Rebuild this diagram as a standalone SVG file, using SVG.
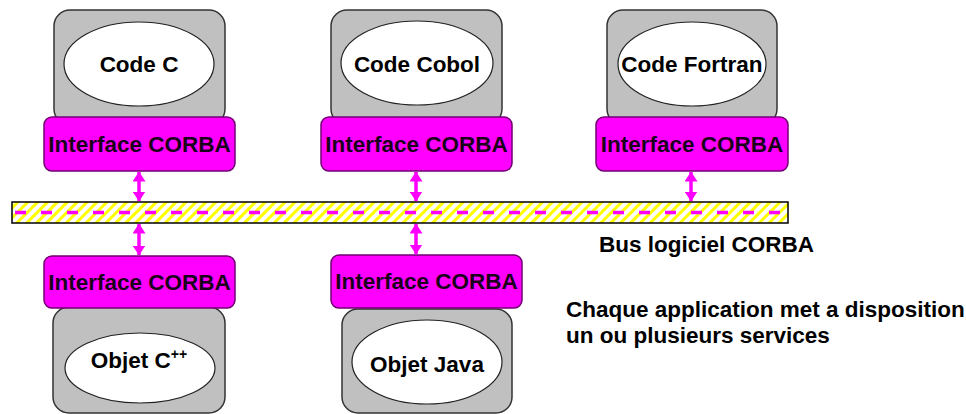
<svg xmlns="http://www.w3.org/2000/svg" width="966" height="414" viewBox="0 0 966 414">
<style>
.box{fill:#c0c0c0;stroke:#333;stroke-width:1.5}
.ell{fill:#fff;stroke:#222;stroke-width:1.2}
.itf{fill:#ff00ff;stroke:#700070;stroke-width:1.5}
.t{font-family:"Liberation Sans",Arial,sans-serif;font-weight:bold;font-size:22.5px;fill:#000}
.ti{font-family:"Liberation Sans",Arial,sans-serif;font-weight:bold;font-size:22.5px;fill:#1a001a;text-anchor:middle}
.c{text-anchor:middle}
.arr{stroke:#ff00ff;stroke-width:3.5;marker-start:url(#ah);marker-end:url(#ah)}
</style>
<defs>
<marker id="ah" viewBox="0 0 10 13" refX="9.5" refY="6.5" markerWidth="10" markerHeight="13" markerUnits="userSpaceOnUse" orient="auto-start-reverse">
<path d="M0,0 L10,6.5 L0,13 z" fill="#ff00ff"/>
</marker>
<pattern id="hatch" patternUnits="userSpaceOnUse" width="7" height="7" patternTransform="rotate(45)">
<rect x="0" y="0" width="3" height="7" fill="#ffff00"/>
</pattern>
</defs>
<rect width="966" height="414" fill="#fff"/>

<g id="bus">
<rect x="12" y="202" width="776" height="21" fill="#fff"/>
<rect x="12" y="202" width="776" height="21" fill="url(#hatch)" stroke="#000" stroke-width="1.5"/>
<line x1="13" y1="212.5" x2="787" y2="212.5" stroke="#ff00ff" stroke-width="3.5" stroke-dasharray="11 15" stroke-dashoffset="-2"/>
</g>

<g id="code-c">
<rect class="box" x="54" y="10" width="171" height="115" rx="16"/>
<ellipse class="ell" cx="139" cy="64" rx="75" ry="42"/>
<text class="t c" x="139" y="72">Code C</text>
</g>
<g id="itf-c">
<rect class="itf" x="44" y="117" width="191" height="54" rx="8"/>
<text class="ti" x="139.5" y="152">Interface CORBA</text>
</g>

<g id="code-cobol">
<rect class="box" x="331" y="10" width="171" height="115" rx="16"/>
<ellipse class="ell" cx="417" cy="63" rx="76" ry="42"/>
<text class="t c" x="417" y="72">Code Cobol</text>
</g>
<g id="itf-cobol">
<rect class="itf" x="321" y="117" width="191" height="54" rx="8"/>
<text class="ti" x="416.5" y="152">Interface CORBA</text>
</g>

<g id="code-fortran">
<rect class="box" x="607" y="10" width="170" height="115" rx="16"/>
<ellipse class="ell" cx="692" cy="64" rx="74" ry="42"/>
<text class="t c" x="692" y="72">Code Fortran</text>
</g>
<g id="itf-fortran">
<rect class="itf" x="596" y="117" width="192" height="54" rx="8"/>
<text class="ti" x="692" y="152">Interface CORBA</text>
</g>

<g id="objet-cpp">
<rect class="box" x="53" y="307" width="172" height="106" rx="16"/>
<ellipse class="ell" cx="140" cy="368" rx="75" ry="35"/>
<text class="t c" x="139" y="368">Objet C<tspan font-size="14" dy="-9">++</tspan></text>
</g>
<g id="itf-cpp">
<rect class="itf" x="44" y="256" width="191" height="52" rx="8"/>
<text class="ti" x="139.5" y="290">Interface CORBA</text>
</g>

<g id="objet-java">
<rect class="box" x="342" y="309" width="170" height="104" rx="16"/>
<ellipse class="ell" cx="427" cy="362" rx="75" ry="42"/>
<text class="t c" x="427" y="372">Objet Java</text>
</g>
<g id="itf-java">
<rect class="itf" x="331" y="255" width="191" height="53" rx="8"/>
<text class="ti" x="426.5" y="289">Interface CORBA</text>
</g>

<g id="connectors">
<line class="arr" x1="139" y1="172" x2="139" y2="201"/>
<line class="arr" x1="416" y1="172" x2="416" y2="201"/>
<line class="arr" x1="691" y1="172" x2="691" y2="201"/>
<line class="arr" x1="139" y1="224" x2="139" y2="255"/>
<line class="arr" x1="416" y1="224" x2="416" y2="254"/>
</g>

<text class="t" x="599" y="252">Bus logiciel CORBA</text>
<text class="t" x="566" y="317">Chaque application met a disposition</text>
<text class="t" x="566" y="343">un ou plusieurs services</text>
</svg>
